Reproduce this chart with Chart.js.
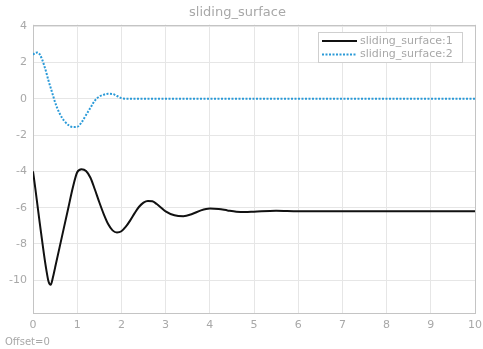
<!DOCTYPE html>
<html>
<head>
<meta charset="utf-8">
<script src="https://cdn.jsdelivr.net/npm/chart.js@4/dist/chart.umd.min.js"></script>
<style>
  html, body { margin: 0; padding: 0; background: #fff; }
  #wrap { width: 483px; height: 349px; position: relative; }
</style>
</head>
<body>
<div id="wrap"><canvas id="chart"></canvas></div>
<script>
// values
const surf1Time = [0, 0.05, 0.1, 0.15, 0.2, 0.25, 0.3, 0.35, 0.4, 0.45, 0.5, 0.6, 0.7, 0.8, 0.9, 1.0,
  1.1, 1.2, 1.3, 1.4, 1.5, 1.6, 1.7, 1.8, 1.9, 2.0, 2.1, 2.2, 2.3, 2.4, 2.5, 2.6, 2.7, 2.8, 2.9, 3.0,
  3.2, 3.4, 3.6, 3.8, 4.0, 4.2, 4.4, 4.6, 4.8, 5.0, 5.5, 6, 7, 8, 9, 10];
const surf1Values = [-4.0, -4.9, -5.85, -6.8, -7.7, -8.6, -9.4, -10.05, -10.25, -9.85, -9.3, -8.2, -7.1, -6.0, -4.9, -4.05,
  -3.88, -3.98, -4.35, -5.0, -5.7, -6.35, -6.9, -7.25, -7.37, -7.3, -7.05, -6.7, -6.3, -5.95, -5.72, -5.63, -5.65, -5.8, -6.0, -6.2,
  -6.42, -6.47, -6.35, -6.15, -6.05, -6.07, -6.15, -6.22, -6.24, -6.22, -6.17, -6.2, -6.2, -6.2, -6.2, -6.2];

const surf2Time = [0, 0.05, 0.1, 0.15, 0.2, 0.25, 0.3, 0.35, 0.4, 0.45, 0.5, 0.6, 0.7, 0.8, 0.9, 1.0,
  1.1, 1.2, 1.3, 1.4, 1.5, 1.6, 1.7, 1.8, 1.9, 2.0, 2.1, 3, 4, 5, 6, 7, 8, 9, 10];
const surf2Values = [2.42, 2.52, 2.54, 2.45, 2.2, 1.85, 1.45, 1.0, 0.6, 0.2, -0.2, -0.8, -1.2, -1.45, -1.56, -1.55,
  -1.3, -0.9, -0.5, -0.1, 0.12, 0.22, 0.27, 0.26, 0.15, 0.03, 0, 0, 0, 0, 0, 0, 0, 0, 0];

const seriesNames = ['sliding_surface:1', 'sliding_surface:2'];
const xTicks = [0, 1, 2, 3, 4, 5, 6, 7, 8, 9, 10];
const yTicks = [-10, -8, -6, -4, -2, 0, 2, 4];

const toPoints = (ts, vs) => ts.map((t, i) => ({ x: t, y: vs[i] }));
const textGray = '#a8a8a8';

// legend drawn inside the plot, top right, like the original
const innerLegend = {
  id: 'innerLegend',
  afterDatasetsDraw(chart) {
    const ctx = chart.ctx;
    const a = chart.chartArea;
    const w = 144, h = 30;
    const x0 = Math.round(a.right) - 157, y0 = Math.round(a.top) + 7;
    ctx.save();
    ctx.fillStyle = '#fff';
    ctx.fillRect(x0, y0, w, h);
    ctx.strokeStyle = '#cfcfcf';
    ctx.lineWidth = 1;
    ctx.strokeRect(x0 + 0.5, y0 + 0.5, w, h);
    ctx.font = '11px "DejaVu Sans"';
    ctx.textBaseline = 'middle';
    chart.data.datasets.forEach((ds, i) => {
      const y = y0 + 9 + i * 13.5;
      ctx.beginPath();
      ctx.strokeStyle = ds.borderColor;
      ctx.lineWidth = ds.borderWidth;
      ctx.setLineDash(ds.borderDash || []);
      ctx.moveTo(x0 + 4, y);
      ctx.lineTo(x0 + 39, y);
      ctx.stroke();
      ctx.setLineDash([]);
      ctx.fillStyle = textGray;
      ctx.fillText(ds.label, x0 + 42, y);
    });
    ctx.restore();
  }
};

// frame around plot and the Offset note
const frame = {
  id: 'frame',
  beforeDatasetsDraw(chart) {
    const ctx = chart.ctx;
    const a = chart.chartArea;
    ctx.save();
    ctx.strokeStyle = '#c4c4c4';
    ctx.lineWidth = 1;
    ctx.strokeRect(Math.round(a.left) + 0.5, Math.round(a.top) + 0.5,
      Math.round(a.right - a.left), Math.round(a.bottom - a.top));
    ctx.restore();
  },
  afterDraw(chart) {
    const ctx = chart.ctx;
    ctx.save();
    ctx.font = '10px "DejaVu Sans"';
    ctx.fillStyle = textGray;
    ctx.textBaseline = 'middle';
    ctx.fillText('Offset=0', 5, 342);
    ctx.restore();
  }
};

new Chart(document.getElementById('chart'), {
  type: 'line',
  data: {
    datasets: [{
      label: seriesNames[0],
      data: toPoints(surf1Time, surf1Values),
      borderColor: '#111111',
      borderWidth: 2,
      pointRadius: 0,
      cubicInterpolationMode: 'monotone',
      fill: false
    }, {
      label: seriesNames[1],
      data: toPoints(surf2Time, surf2Values),
      borderColor: '#2a9ad8',
      borderWidth: 2,
      borderDash: [2, 1.5],
      pointRadius: 0,
      cubicInterpolationMode: 'monotone',
      fill: false
    }]
  },
  options: {
    responsive: true,
    maintainAspectRatio: false,
    animation: false,
    layout: { padding: { left: 0, right: 8, top: 0, bottom: 14 } },
    scales: {
      x: {
        type: 'linear',
        min: 0,
        max: 10,
        afterBuildTicks: s => { s.ticks = xTicks.map(v => ({ value: v })); },
        afterFit: s => { s.height = 22; s.paddingLeft = 0; s.paddingRight = 0; },
        grid: { color: '#e6e6e6', drawTicks: false },
        border: { display: false },
        ticks: { color: textGray, font: { size: 11, family: 'DejaVu Sans' }, padding: 6, maxRotation: 0 }
      },
      y: {
        min: -11.8,
        max: 4.08,
        afterBuildTicks: s => { s.ticks = yTicks.map(v => ({ value: v })); },
        afterFit: s => { s.width = 33; s.paddingTop = 0; s.paddingBottom = 0; },
        grid: { color: '#e6e6e6', drawTicks: false },
        border: { display: false },
        ticks: {
          color: textGray,
          font: { size: 11, family: 'DejaVu Sans' },
          padding: 6
        }
      }
    },
    plugins: {
      legend: { display: false },
      tooltip: { enabled: false },
      title: {
        display: true,
        text: 'sliding_surface',
        color: textGray,
        font: { size: 13, weight: 'normal', family: 'DejaVu Sans' },
        padding: { top: 5, bottom: 4 }
      }
    }
  },
  plugins: [frame, innerLegend]
});
</script>
</body>
</html>
